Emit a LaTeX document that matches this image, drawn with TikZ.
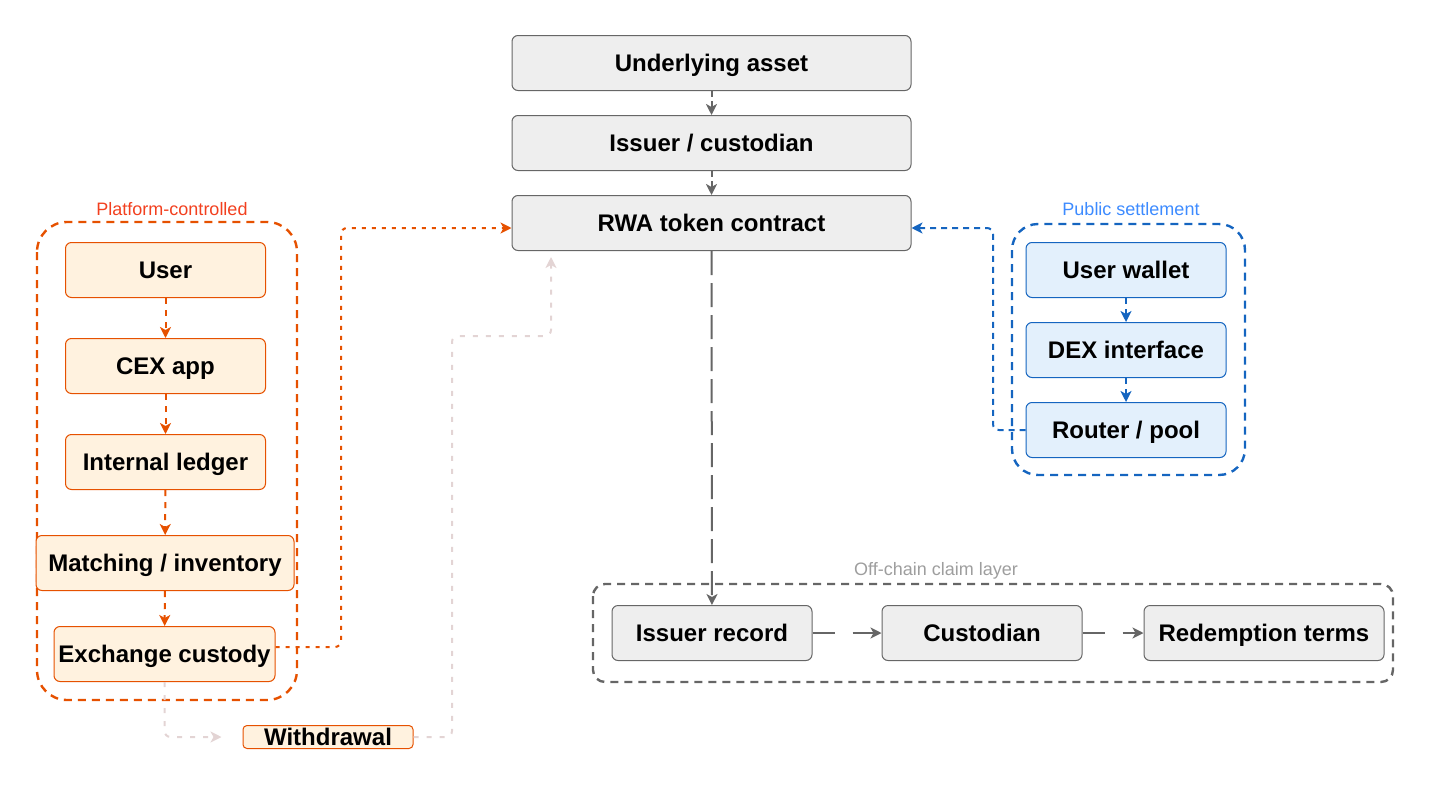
\documentclass[tikz,border=0pt]{standalone}
\usepackage{fontspec}
\setmainfont{Liberation Sans}
\usetikzlibrary{arrows.meta}

\definecolor{greyline}{HTML}{666666}
\definecolor{greyfill}{HTML}{EEEEEE}
\definecolor{orangeline}{HTML}{E65100}
\definecolor{orangefill}{HTML}{FFF2DF}
\definecolor{orangelabel}{HTML}{F2401F}
\definecolor{blueline}{HTML}{1565C0}
\definecolor{bluefill}{HTML}{E3F0FC}
\definecolor{bluelabel}{HTML}{3D8BFF}
\definecolor{greylabel}{HTML}{9E9E9E}
\definecolor{pinkline}{HTML}{E3D4D4}

\begin{document}
\begin{tikzpicture}[x=0.5pt,y=-0.5pt,
    box/.style={rounded corners=3pt, line width=0.5pt, minimum height=27.5pt, inner sep=0pt,
      text height=8.6pt, text depth=0pt, font=\fontsize{12}{14}\selectfont\bfseries},
    greybox/.style={box, draw=greyline, fill=greyfill, minimum width=100pt},
    orangebox/.style={box, draw=orangeline, fill=orangefill, minimum width=100pt},
    bluebox/.style={box, draw=blueline, fill=bluefill, minimum width=100pt},
    grouplabel/.style={font=\fontsize{9}{11}\selectfont, inner sep=0pt},
    tip/.style={-{Stealth[length=5.5pt,width=5.5pt,inset=1.5pt]}},
    greyarrow/.style={tip, draw=greyline, line width=1pt, dash pattern=on 3pt off 2pt},
    orangearrow/.style={tip, draw=orangeline, line width=1pt, dash pattern=on 3pt off 3pt},
    bluearrow/.style={tip, draw=blueline, line width=1pt, dash pattern=on 3pt off 2.5pt}
  ]
  \useasboundingbox (0,0) rectangle (1430,787);

  % groups
  \draw[orangeline, line width=1.2pt, dash pattern=on 4pt off 3pt, rounded corners=15pt]
    (37,222) rectangle (297,700);
  \node[grouplabel, text=orangelabel] (platformlabel) at (172,209) {Platform-controlled};
  \draw[blueline, line width=1.2pt, dash pattern=on 4pt off 3pt, rounded corners=13pt]
    (1012,224) rectangle (1245,475);
  \node[grouplabel, text=bluelabel] (publiclabel) at (1131,209) {Public settlement};
  \draw[greyline, line width=1.2pt, dash pattern=on 4pt off 3pt, rounded corners=6pt]
    (593,584) rectangle (1393,682);
  \node[grouplabel, text=greylabel] (offchainlabel) at (936,571) {Off-chain claim layer};

  % main column
  \node[greybox, minimum width=199.5pt] (asset) at (711.5,63) {Underlying asset};
  \node[greybox, minimum width=199.5pt] (issuer) at (711.5,143) {Issuer / custodian};
  \node[greybox, minimum width=199.5pt] (token) at (711.5,223) {RWA token contract};

  % platform side
  \node[orangebox] (user) at (165.5,270) {User};
  \node[orangebox] (cex) at (165.5,366) {CEX app};
  \node[orangebox] (ledger) at (165.5,462) {Internal ledger};
  \node[orangebox, minimum width=129pt] (matching) at (165,563) {Matching / inventory};
  \node[orangebox, minimum width=110.5pt] (custody) at (164.5,654) {Exchange custody};
  \node[orangebox, minimum width=85pt, minimum height=11.5pt, rounded corners=2pt] (withdrawal) at (328,737) {Withdrawal};

  % public side
  \node[bluebox] (wallet) at (1126,270) {User wallet};
  \node[bluebox] (dex) at (1126,350) {DEX interface};
  \node[bluebox] (router) at (1126,430) {Router / pool};

  % off-chain layer
  \node[greybox] (record) at (712,633) {Issuer record};
  \node[greybox] (custodian) at (982,633) {Custodian};
  \node[greybox, minimum width=120pt] (terms) at (1264,633) {Redemption terms};

  % connectors
  \draw[greyarrow] (asset) -- (issuer);
  \draw[greyarrow] (issuer) -- (token);
  \draw[greyarrow, dash pattern=on 12pt off 4pt] (token) -- (record);
  \draw[greyarrow, dash pattern=on 11pt off 9pt] (record) -- (custodian);
  \draw[greyarrow, dash pattern=on 11pt off 9pt] (custodian) -- (terms);

  \draw[orangearrow] (user) -- (cex);
  \draw[orangearrow] (cex) -- (ledger);
  \draw[orangearrow] (ledger) -- (matching);
  \draw[orangearrow] (matching) -- (custody);
  \draw[orangearrow, dash pattern=on 2pt off 3pt, rounded corners=3pt]
    ([yshift=3.5pt]custody.east) -| (341,228) -- ([yshift=-2.5pt]token.west);

  \draw[tip, draw=pinkline, line width=1pt, dash pattern=on 2.5pt off 4pt,
    rounded corners=3pt, shorten >=10.5pt] (custody.south) |- (withdrawal.west);
  \draw[tip, draw=pinkline, line width=1pt, dash pattern=on 2.5pt off 4pt,
    rounded corners=3pt, shorten >=3pt] (withdrawal.east) -| (452,336) -| ([xshift=-80.25pt]token.south);

  \draw[bluearrow] (wallet) -- (dex);
  \draw[bluearrow] (dex) -- (router);
  \draw[bluearrow, rounded corners=3pt]
    (router.west) -| (993,228) -- ([yshift=-2.5pt]token.east);
\end{tikzpicture}
\end{document}
